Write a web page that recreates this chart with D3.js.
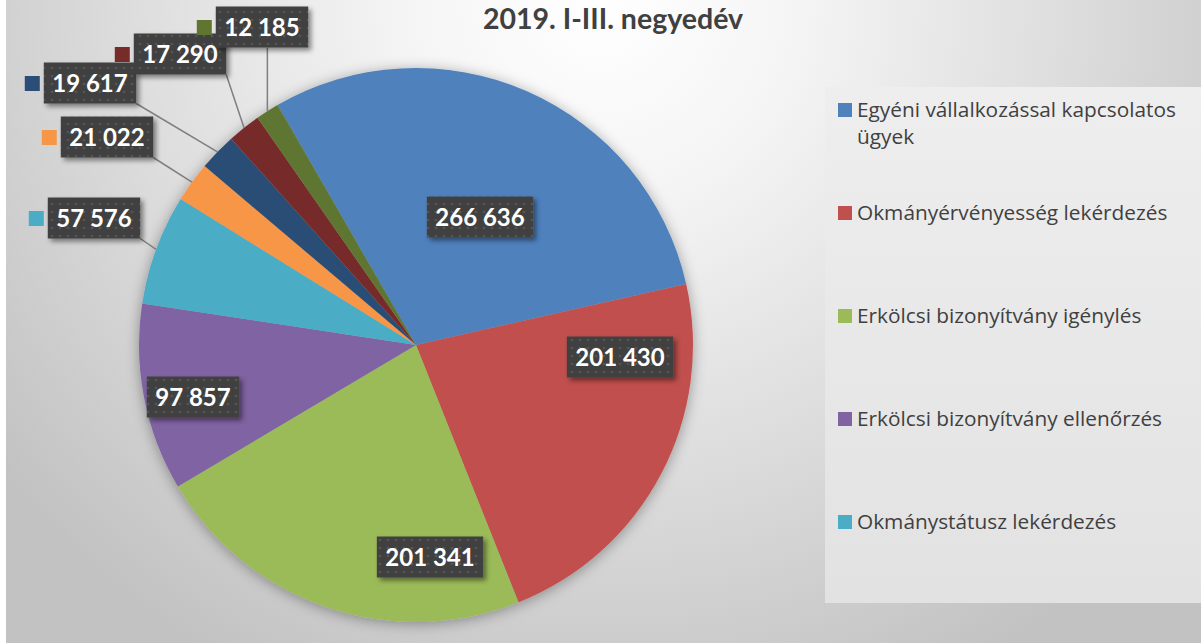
<!DOCTYPE html>
<html lang="hu">
<head>
<meta charset="UTF-8">
<title>2019. I-III. negyedév</title>
<style>
    body { margin: 0; }
    .title { font: bold 28.5px Lato, sans-serif; fill: #404040; }
    .label-text { font: bold 24px Lato, sans-serif; fill: #fff; }
    .legend text { font-family: "Open Sans", sans-serif; font-size: 20px; fill: #404040; }
    .leader { stroke: #7f7f7f; stroke-width: 1.5px; fill: none; }
</style>
</head>
<body>
<script src="https://d3js.org/d3.v7.min.js"></script>
<script>
// adatok
const categories = [
    "Egyéni vállalkozással kapcsolatos ügyek",
    "Okmányérvényesség lekérdezés",
    "Erkölcsi bizonyítvány igénylés",
    "Erkölcsi bizonyítvány ellenőrzés",
    "Okmánystátusz lekérdezés",
    "Egyéb 1",
    "Egyéb 2",
    "Egyéb 3",
    "Egyéb 4"
];
const values = [266636, 201430, 201341, 97857, 57576, 21022, 19617, 17290, 12185];
const colors = ["#4F81BD", "#C0504D", "#9BBB59", "#8064A2", "#4BACC6",
                "#F79646", "#2C4D75", "#772C2A", "#5F7530"];
const title = "2019. I-III. negyedév";

// label boxes were dragged by hand in the original, so keep their centres here
const labelCenters = [[480, 217], [620, 357], [430, 557], [193, 397],
                      [94, 218], [107, 137], [90, 83], [180, 54], [262, 27]];
const hasKey = [false, false, false, false, true, true, true, true, true];
const legendShown = 5; // the rest does not fit in the legend box

const W = 1201, H = 643;
const cx = 416, cy = 345, R = 277;
const fmt = v => d3.format(",")(v).replace(/,/g, " ");

const svg = d3.select("body").append("svg")
    .attr("width", W)
    .attr("height", H);

const defs = svg.append("defs");

const bg = defs.append("radialGradient")
    .attr("id", "bg")
    .attr("gradientUnits", "userSpaceOnUse")
    .attr("cx", 600).attr("cy", 0).attr("r", 760);
[[0, "#ffffff"], [0.25, "#f5f5f5"], [0.6, "#dedede"], [1, "#c2c2c2"]].forEach(s =>
    bg.append("stop").attr("offset", s[0]).attr("stop-color", s[1]));

const lg = defs.append("linearGradient")
    .attr("id", "legendbg")
    .attr("x1", 0).attr("y1", 0).attr("x2", 0).attr("y2", 1);
lg.append("stop").attr("offset", 0).attr("stop-color", "#eeeeee");
lg.append("stop").attr("offset", 1).attr("stop-color", "#e2e2e2");

// soft halo around the pie
const halo = defs.append("filter").attr("id", "halo")
    .attr("x", "-20%").attr("y", "-20%").attr("width", "140%").attr("height", "140%");
halo.append("feDropShadow").attr("dx", 0).attr("dy", 2)
    .attr("stdDeviation", 7).attr("flood-color", "#000").attr("flood-opacity", 0.35);

const boxShadow = defs.append("filter").attr("id", "boxshadow")
    .attr("x", "-20%").attr("y", "-30%").attr("width", "150%").attr("height", "170%");
boxShadow.append("feDropShadow").attr("dx", 3).attr("dy", 3)
    .attr("stdDeviation", 2.5).attr("flood-color", "#000").attr("flood-opacity", 0.45);

const dots = defs.append("pattern").attr("id", "dots")
    .attr("patternUnits", "userSpaceOnUse").attr("width", 8).attr("height", 8);
dots.append("rect").attr("width", 8).attr("height", 8).attr("fill", "#404040");
dots.append("circle").attr("cx", 4).attr("cy", 4).attr("r", 1.3).attr("fill", "#555555");

// background
svg.append("rect").attr("width", W).attr("height", H).attr("fill", "url(#bg)");
svg.append("rect").attr("width", 6).attr("height", H).attr("fill", "#ffffff");

// title
svg.append("text").attr("class", "title")
    .attr("x", 613).attr("y", 29)
    .attr("text-anchor", "middle")
    .text(title);

// pie
const pie = d3.pie().sort(null)
    .startAngle(-30 * Math.PI / 180)
    .endAngle(330 * Math.PI / 180);
const arcs = pie(values);
const arc = d3.arc().innerRadius(0).outerRadius(R);

const pieG = svg.append("g")
    .attr("transform", `translate(${cx},${cy})`)
    .attr("filter", "url(#halo)");
pieG.selectAll("path")
    .data(arcs)
    .join("path")
    .attr("d", arc)
    .attr("fill", (d, i) => colors[i]);

// labels
const labelG = svg.append("g");

const items = arcs.map((d, i) => ({ d, i, text: fmt(values[i]) }));

// measure the label texts first
const tmp = labelG.append("text").attr("class", "label-text");
items.forEach(it => {
    tmp.text(it.text);
    it.tw = tmp.node().getComputedTextLength();
    it.bw = it.tw + 17;
    it.bh = 41;
    it.x0 = labelCenters[it.i][0] - it.bw / 2;
    it.y0 = labelCenters[it.i][1] - it.bh / 2;
});
tmp.remove();

// leader lines for the labels outside the pie
items.filter(it => hasKey[it.i]).forEach(it => {
    const a = (it.d.startAngle + it.d.endAngle) / 2;
    const px = cx + R * Math.sin(a), py = cy - R * Math.cos(a);
    const qx = Math.max(it.x0, Math.min(it.x0 + it.bw, px));
    const qy = Math.max(it.y0, Math.min(it.y0 + it.bh, py));
    labelG.append("line").attr("class", "leader")
        .attr("x1", qx).attr("y1", qy).attr("x2", px).attr("y2", py);
});

const lab = labelG.selectAll("g.lab")
    .data(items)
    .join("g")
    .attr("class", "lab");

lab.append("rect")
    .attr("x", it => it.x0).attr("y", it => it.y0)
    .attr("width", it => it.bw).attr("height", it => it.bh)
    .attr("fill", "url(#dots)")
    .attr("filter", "url(#boxshadow)");

lab.append("text").attr("class", "label-text")
    .attr("x", it => it.x0 + it.bw / 2)
    .attr("y", it => it.y0 + it.bh / 2 + 8.5)
    .attr("text-anchor", "middle")
    .text(it => it.text);

lab.filter(it => hasKey[it.i]).append("rect")
    .attr("x", it => it.x0 - 19).attr("y", it => it.y0 + it.bh / 2 - 7)
    .attr("width", 15).attr("height", 15)
    .attr("fill", it => colors[it.i]);

// legend
svg.append("rect")
    .attr("x", 825).attr("y", 87)
    .attr("width", W - 825).attr("height", 516)
    .attr("fill", "url(#legendbg)");

const legend = svg.append("g").attr("class", "legend");

// fit the legend font so the first line is as wide as in the original (~319px)
const probe = legend.append("text").text("Egyéni vállalkozással kapcsolatos");
const legendFont = 20 * 319 / probe.node().getComputedTextLength();
probe.remove();
legend.style("font-size", legendFont + "px");

const maxW = W - 857 - 8;
categories.slice(0, legendShown).forEach((name, i) => {
    const ky = 110 + i * 103;
    legend.append("rect")
        .attr("x", 838).attr("y", ky - 7)
        .attr("width", 14).attr("height", 14)
        .attr("fill", colors[i]);
    const t = legend.append("text").attr("x", 857).attr("y", ky + 7)
        .style("font-size", legendFont + "px");
    // simple word wrap
    const words = name.split(" ");
    let line = [];
    let ts = t.append("tspan").attr("x", 857).attr("dy", 0);
    words.forEach(w => {
        line.push(w);
        ts.text(line.join(" "));
        if (ts.node().getComputedTextLength() > maxW && line.length > 1) {
            line.pop();
            ts.text(line.join(" "));
            line = [w];
            ts = t.append("tspan").attr("x", 857).attr("dy", 27).text(w);
        }
    });
});
</script>
</body>
</html>
